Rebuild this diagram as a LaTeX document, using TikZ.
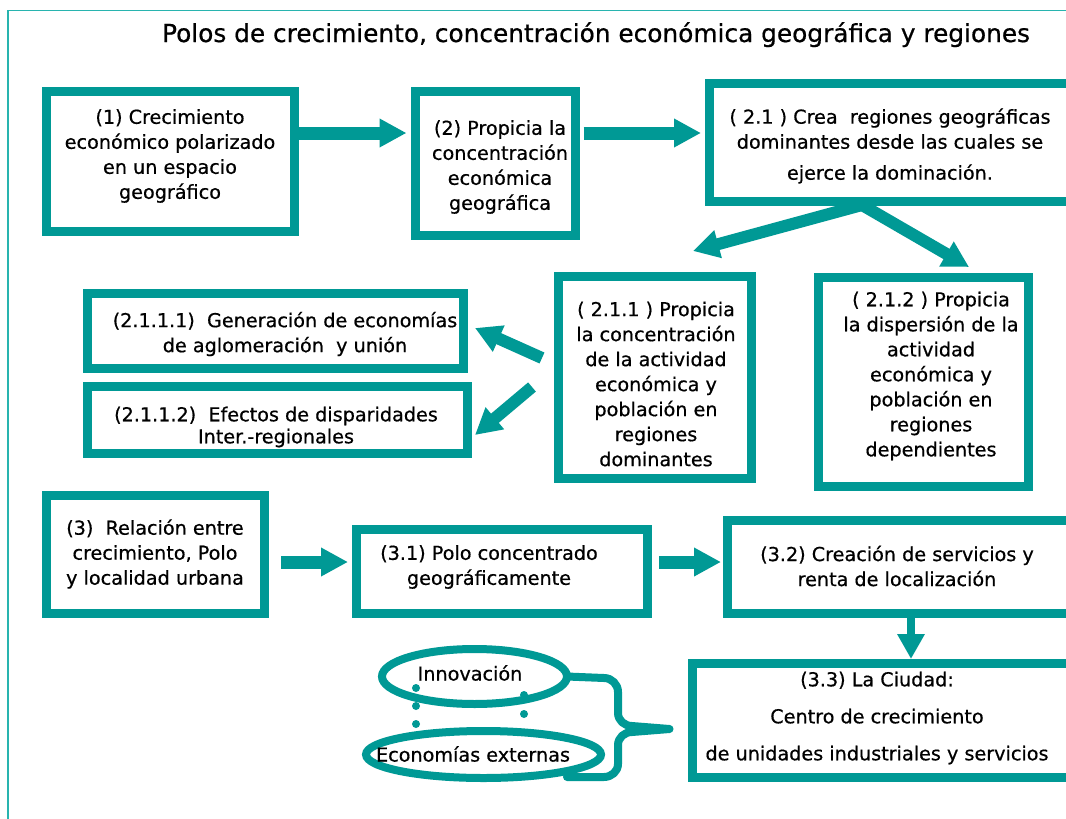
\documentclass[tikz,border=0pt]{standalone}
\usepackage{fontspec}
\setmainfont{DejaVu Sans}[FakeBold=0.6]
\usetikzlibrary{arrows.meta,shapes.geometric}
\definecolor{tealbox}{RGB}{0,153,149}
\definecolor{tealframe}{RGB}{40,180,175}
\begin{document}
\begin{tikzpicture}[x=1pt,y=-1pt,
  box/.style={draw=tealbox,line width=9pt,rectangle,inner sep=0pt,outer sep=4.5pt},
  oval/.style={draw=tealbox,line width=8pt,ellipse,inner sep=0pt,outer sep=0pt},
  txt/.style={font=\fontsize{19.2}{25}\selectfont,align=center,inner sep=0pt,text=black},
  arr/.style={draw=tealbox,line width=13pt,-{Triangle[width=27pt,length=27pt]}},
  darr/.style={draw=tealbox,line width=12pt,-{Triangle[width=27pt,length=26pt]}},
  varr/.style={draw=tealbox,line width=8pt,-{Triangle[width=26pt,length=25pt]}},
]
\useasboundingbox (0,0) rectangle (1066,819);
\clip (0,0) rectangle (1066,819);
\fill[white] (0,0) rectangle (1066,819);
% frame
\draw[tealframe,line width=1.8pt] (8,830) -- (8,10.5) -- (1080,10.5);
% title
\node[anchor=base,inner sep=0pt,font=\fontsize{24.8}{30}\selectfont] (title) at (596,42)
  {Polos de crecimiento, concentración económica geográfica y regiones};
% boxes
\node[box,minimum width=248pt,minimum height=140pt] (b1) at (170,161) {};
\node[box,minimum width=160pt,minimum height=144pt] (b2) at (495,163) {};
\node[box,minimum width=391pt,minimum height=118pt] (b21) at (904.5,142) {};
\node[box,minimum width=193pt,minimum height=202pt] (b211) at (654.5,377) {};
\node[box,minimum width=210pt,minimum height=209pt] (b212) at (923,381.5) {};
\node[box,minimum width=376pt,minimum height=75pt] (b2111) at (275,330.5) {};
\node[box,minimum width=380pt,minimum height=67pt] (b2112) at (277,419.5) {};
\node[box,minimum width=218pt,minimum height=118pt] (b3) at (155,554) {};
\node[box,minimum width=291pt,minimum height=84pt] (b31) at (501.5,571) {};
\node[box,minimum width=373pt,minimum height=93pt] (b32) at (913.5,566.5) {};
\node[box,minimum width=408pt,minimum height=114pt] (b33) at (896,720) {};
\node[oval,minimum width=185pt,minimum height=55pt] (e1) at (474.5,676.5) {};
\node[oval,minimum width=235pt,minimum height=47pt] (e2) at (483.5,754.5) {};
% texts
\node[txt] (t1) at (170,156) {(1) Crecimiento\\económico polarizado\\en un espacio\\geográfico};
\node[txt] (t2) at (500,167) {(2) Propicia la\\concentración\\económica\\geográfica};
\node[txt] (t21) at (890,146) {( 2.1 ) Crea\ \ regiones geográficas\\dominantes desde las cuales se\\[6pt]ejerce la dominación.};
\node[txt] (t211) at (656,384) {( 2.1.1 ) Propicia\\la concentración\\de la actividad\\económica y\\población en\\regiones\\dominantes};
\node[txt] (t212) at (931,376) {( 2.1.2 ) Propicia\\la dispersión de la\\actividad\\económica y\\población en\\regiones\\dependientes};
\node[txt] (t2111) at (285,334) {(2.1.1.1)\ \ Generación de economías\\de aglomeración\ \ y unión};
\node[txt] (t2112) at (276,427) {(2.1.1.2)\ \ Efectos de disparidades\\[-3pt]Inter.-regionales};
\node[txt] (t3) at (155,554) {(3)\ \ Relación entre\\crecimiento, Polo\\y localidad urbana};
\node[txt] (t31) at (489,567) {(3.1) Polo concentrado\\geográficamente};
\node[txt] (t32) at (897,566) {(3.2) Creación de servicios y\\renta de localización};
\node[txt] (t33) at (877,718) {(3.3) La Ciudad:\\[12pt]Centro de crecimiento\\[12pt]de unidades industriales y servicios};
\node[txt] (te1) at (470,673) {Innovación};
\node[txt] (te2) at (473,754) {Economías externas};
% arrows
\draw[arr] ([shift={(0,-28)}]b1.east) -- ([shift={(-4,-30)}]b2.west);
\draw[arr] ([shift={(4,-30)}]b2.east) -- ([shift={(-3.5,-9)}]b21.west);
\draw[darr] ([shift={(-42.5,-0.5)}]b21.south) -- ([shift={(38.5,-20.5)}]b211.north);
\draw[darr] ([shift={(-42.5,-0.5)}]b21.south) -- ([shift={(46,-5.5)}]b212.north);
\draw[darr] ([shift={(-11.5,-19)}]b211.west) -- ([shift={(7.5,-2.5)}]b2111.east);
\draw[darr] ([shift={(-21.5,10)}]b211.west) -- ([shift={(3.5,15.5)}]b2112.east);
\draw[arr] ([shift={(12.5,8)}]b3.east) -- ([shift={(-3.5,-9)}]b31.west);
\draw[arr] ([shift={(7.5,-9)}]b31.east) -- ([shift={(-1.5,-4.5)}]b32.west);
\draw[varr] ([shift={(-2.5,0)}]b32.south) -- ([shift={(15,0.5)}]b33.north);
% dots
\foreach \p in {(416,688),(416,706),(416,724),(524,695),(524,714)}
  \fill[tealbox] \p circle (4pt);
% brace
\coordinate (bracetip) at ([shift={(-18,9)}]b33.west);
\draw[tealbox,line width=8pt,line join=round,line cap=round]
  (e1.east) -- (604,678) to[out=0,in=90] (618,692) -- (618,713)
  to[out=-90,in=180] (632,726) -- (bracetip) -- (632,732)
  to[out=180,in=90] (618,745) -- (618,764) to[out=-90,in=0] (604,777)
  -- ([shift={(-34,22.5)}]e2.east);
\end{tikzpicture}
\end{document}
